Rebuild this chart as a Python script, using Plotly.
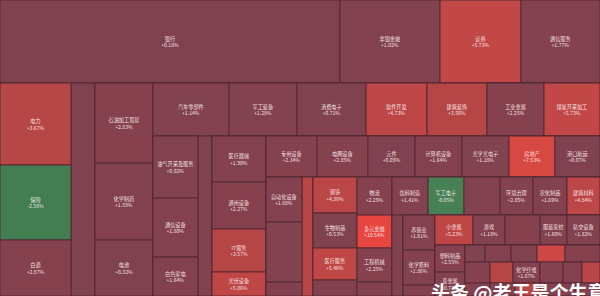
import plotly.graph_objects as go

# ---- data ----
names = [
    "银行", "非银金融", "证券", "通信服务",
    "电力", "保险", "白酒", "汽车整车", "石油加工贸易", "化学制药", "电池",
    "汽车零部件", "军工装备", "消费电子", "软件开发", "建筑装饰", "工业金属", "煤炭开采加工",
    "油气开采及服务", "通信设备", "白色家电", "半导体",
    "医疗器械", "通用设备", "IT服务", "光伏设备",
    "专用设备", "电网设备", "元件", "计算机设备", "光学光电子", "房地产", "港口航运",
    "自动化设备", "公路铁路运输", "中药", "电子化学品",
    "钢铁", "生物制品", "医疗服务", "零售",
    "物流", "多元金融", "工程机械", "装修建材",
    "饮料制造", "军工电子", "食品加工制造", "环境治理", "农化制品", "建筑材料",
    "种植业", "养殖业", "化学原料", "家居用品",
    "小金属", "游戏", "其他电源设备", "服装家纺", "轨交设备",
    "塑料制品", "贵金属",
    "美容护理", "医药商业", "风电设备", "非金属材料", "能源金属",
    "其他电子", "影视院线", "化学纤维", "燃气", "电机", "摩托车及其他",
    "纺织制造", "包装印刷", "综合", "造纸", "橡胶制品",
]
changes = [
    0.18, 1.02, 5.73, 1.77,
    3.67, -2.56, 2.87, 0.26, 2.83, 1.59, 0.32,
    1.14, 1.28, 0.71, 4.73, 3.56, 2.25, 5.73,
    0.92, 1.80, 1.64, 1.20,
    1.90, 2.27, 3.57, 5.06,
    2.34, 2.85, 0.09, 1.64, 1.18, 7.53, 0.07,
    1.68, 1.46, 1.62, 3.90,
    4.36, 0.53, 5.46, 1.50,
    2.29, 10.54, 2.25, 2.00,
    1.41, -0.05, 1.21, 2.05, 1.69, 4.84,
    1.30, 1.61, 1.86, 1.50,
    5.23, 1.18, 2.42, 1.60, 1.82,
    2.55, 0.77,
    0.57, 1.87, 0.71, 6.70, 2.64,
    2.03, 3.54, 1.67, 2.09, 1.74, 4.00,
    1.50, 1.80, 4.20, 1.60, 1.50,
]
weights = [
    28220, 8300, 6723, 6557,
    5822, 5325, 3976, 5112, 4640, 4466, 3248,
    4028, 3604, 3657, 3233, 3180, 3021, 2968,
    2790, 2655, 1755, 2240,
    2484, 2538, 2322, 1296,
    2091, 2091, 1927, 1927, 1927, 1886, 1845,
    1620, 2160, 504, 1309,
    1584, 1540, 1408, 704,
    1330, 1155, 1190, 490,
    1368, 1368, 1368, 1254, 1292, 1254,
    891, 1120, 1120, 352,
    1140, 960, 1050, 810, 990,
    810, 720,
    340, 442, 442, 476, 595,
    525, 483, 567, 483, 399, 378,
    325, 325, 325, 455, 325,
]

# grouping of sectors into blocks (row = side by side, col = stacked)
blocks = ("col", [
    ("row", ["银行", "非银金融", "证券", "通信服务"]),
    ("row", [
        ("col", ["电力", "保险", "白酒"]),
        "汽车整车",
        ("col", ["石油加工贸易", "化学制药", "电池"]),
        ("col", [
            ("row", ["汽车零部件", "军工装备", "消费电子", "软件开发", "建筑装饰", "工业金属", "煤炭开采加工"]),
            ("row", [
                ("col", ["油气开采及服务", "通信设备", "白色家电"]),
                "半导体",
                ("col", ["医疗器械", "通用设备", "IT服务", "光伏设备"]),
                ("col", [
                    ("row", ["专用设备", "电网设备", "元件", "计算机设备", "光学光电子", "房地产", "港口航运"]),
                    ("row", [
                        ("col", ["自动化设备", "公路铁路运输", "中药"]),
                        "电子化学品",
                        ("col", ["钢铁", "生物制品", "医疗服务", "零售"]),
                        ("col", ["物流", "多元金融", "工程机械", "装修建材"]),
                        ("col", [
                            ("row", ["饮料制造", "军工电子", "食品加工制造", "环境治理", "农化制品", "建筑材料"]),
                            ("row", [
                                "种植业",
                                ("col", ["养殖业", "化学原料", "家居用品"]),
                                ("col", [
                                    ("row", ["小金属", "游戏", "其他电源设备", "服装家纺", "轨交设备"]),
                                    ("row", [
                                        ("col", ["塑料制品", "贵金属"]),
                                        ("col", [
                                            ("row", ["美容护理", "医药商业", "风电设备", "非金属材料", "能源金属"]),
                                            ("row", ["其他电子", "影视院线", "化学纤维", "燃气", "电机", "摩托车及其他"]),
                                            ("row", ["纺织制造", "包装印刷", "综合", "造纸", "橡胶制品"]),
                                        ]),
                                    ]),
                                ]),
                            ]),
                        ]),
                    ]),
                ]),
            ]),
        ]),
    ]),
])

# ---- build hierarchy ----
ids, parents, labels, values, colors, texts = [], [], [], [], [], []
counter = [0]


def add_group(parent):
    gid = f"g{counter[0]}"
    counter[0] += 1
    ids.append(gid); parents.append(parent); labels.append("")
    values.append(0); colors.append(1.0); texts.append("")
    return gid


def build(node, parent, depth):
    if isinstance(node, str):
        i = names.index(node)
        ids.append(node); parents.append(parent); labels.append(node)
        values.append(weights[i]); colors.append(changes[i])
        texts.append(f"{node}<br>{changes[i]:+.2f}%")
        return
    orient, children = node
    if (depth % 2 == 0) != (orient == "row"):
        parent = add_group(parent)
        depth += 1
    gid = add_group(parent)
    for c in children:
        build(c, gid, depth + 1)


build(blocks, "", 0)

colorscale = [
    [0.0, "rgb(66,126,82)"], [0.082, "rgb(70,128,84)"],
    [0.0834, "rgb(128,66,80)"], [0.333, "rgb(134,65,78)"],
    [0.375, "rgb(182,70,70)"], [0.583, "rgb(194,72,70)"],
    [0.7, "rgb(215,72,66)"], [1.0, "rgb(232,70,62)"],
]

fig = go.Figure(go.Treemap(
    ids=ids, parents=parents, labels=labels, values=values,
    branchvalues="remainder", sort=False,
    text=texts, textinfo="text", textposition="middle center",
    marker=dict(colors=colors, colorscale=colorscale, cmin=-1, cmax=11,
                showscale=False, line=dict(color="rgb(86,40,52)", width=1),
                pad=dict(t=0, l=0, r=0, b=0)),
    tiling=dict(packing="slice-dice", pad=0),
    pathbar=dict(visible=False),
    textfont=dict(family="Noto Sans CJK SC", size=6.5, color="rgba(255,238,238,0.95)"),
    hoverinfo="skip",
))

fig.add_annotation(
    text="<b>头条 @老王是个生意人</b>", xref="paper", yref="paper",
    x=0.715, y=0.014, xanchor="left", yanchor="middle", showarrow=False,
    font=dict(family="Noto Sans CJK SC", size=19, color="white"),
)

fig.update_layout(
    width=600, height=296, margin=dict(l=0, r=0, t=0, b=0),
    paper_bgcolor="rgb(86,40,52)",
    uniformtext=dict(minsize=5, mode="hide"),
    hovermode=False,
)

fig.write_html("out.html", config={"staticPlot": True})
